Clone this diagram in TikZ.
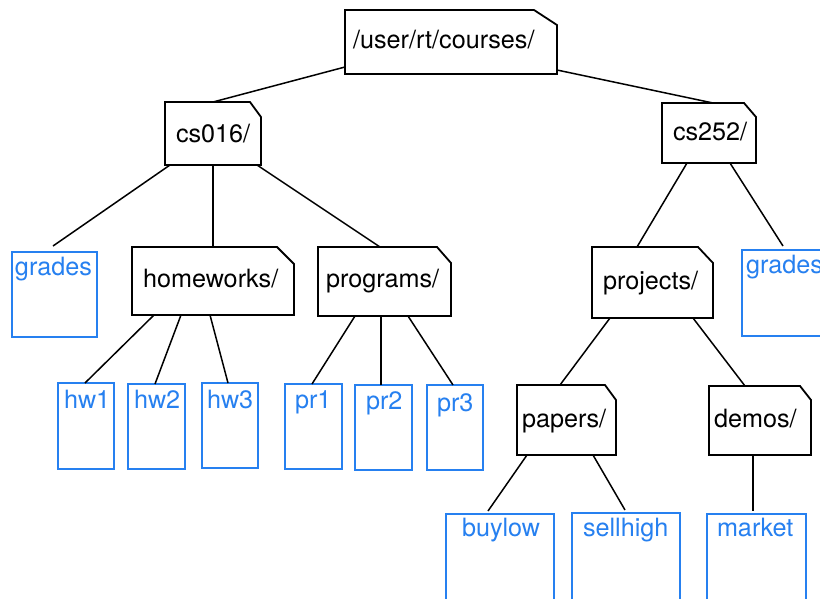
\documentclass[tikz,border=0pt]{standalone}
\usepackage{fontspec}
\setmainfont{TeX Gyre Heros}
\definecolor{fileblue}{RGB}{38,128,240}
\tikzset{
  boxnode/.style={rectangle,inner sep=0pt,outer sep=0pt},
  folderline/.style={draw=black,line width=1.8pt,line join=miter},
  filebox/.style={boxnode,draw=fileblue,line width=1.8pt},
  conn/.style={draw=black,line width=1.5pt},
  lbl/.style={inner sep=0pt,outer sep=0pt,font=\fontsize{25.2}{30}\selectfont},
  flbl/.style={lbl,text=fileblue},
}
% name, left, top, right, bottom, chamfer dx, chamfer dy
\newcommand\folderat[7]{%
  \node[boxnode,minimum width={(#4-#2)*1pt},minimum height={(#5-#3)*1pt}] (#1) at ({(#2+#4)/2},{(#3+#5)/2}) {};
  \draw[folderline] (#1.north west) -- ([xshift=-#6pt]#1.north east) -- ([yshift=-#7pt]#1.north east) -- (#1.south east) -- (#1.south west) -- cycle;
}
\newcommand\fileat[5]{%
  \node[filebox,minimum width={(#4-#2)*1pt},minimum height={(#5-#3)*1pt}] (#1) at ({(#2+#4)/2},{(#3+#5)/2}) {};
}
\begin{document}
\begin{tikzpicture}[x=1pt,y=-1pt]
\useasboundingbox (0,0) rectangle (820,598);
\clip (0,0) rectangle (820,598);
\fill[white] (0,0) rectangle (820,598);

% folders
\folderat{root}{345}{10}{557}{74}{23}{15}
\folderat{cs016}{165}{102}{261}{165}{11}{15}
\folderat{hw}{132}{247}{294}{315}{17}{17}
\folderat{prog}{318}{247}{451}{316}{14}{16}
\folderat{cs252}{662}{103}{756}{163}{12}{14}
\folderat{proj}{592}{247}{713}{318}{15}{16}
\folderat{papers}{517}{385}{616}{455}{11}{15}
\folderat{demos}{709}{386}{811}{455}{11}{14}

\node[lbl,anchor=base west] (root-t) at (353,48) {/user/rt/courses/};
\node[lbl,anchor=base west] (cs016-t) at (176,142) {cs016/};
\node[lbl,anchor=base west] (hw-t) at (143,287) {homeworks/};
\node[lbl,anchor=base west] (prog-t) at (326,287) {programs/};
\node[lbl,anchor=base west] (cs252-t) at (673,140) {cs252/};
\node[lbl,anchor=base west] (proj-t) at (603,289) {projects/};
\node[lbl,anchor=base west] (papers-t) at (522,427) {papers/};
\node[lbl,anchor=base west] (demos-t) at (714,427) {demos/};

% files
\fileat{gradesL}{12}{252}{97}{337}
\fileat{gradesR}{742}{250}{840}{336}
\fileat{hw1}{58}{383}{114}{469}
\fileat{hw2}{128}{384}{185}{469}
\fileat{hw3}{202}{383}{258}{468}
\fileat{pr1}{285}{384}{342}{469}
\fileat{pr2}{355}{385}{412}{470}
\fileat{pr3}{427}{385}{483}{470}
\fileat{buylow}{446}{514}{554}{620}
\fileat{sellhigh}{572}{513}{680}{620}
\fileat{market}{707}{514}{806}{620}

\node[flbl,anchor=base west] (gradesL-t) at (15,275) {grades};
\node[flbl,anchor=base west] (gradesR-t) at (746,273) {grades};
\node[flbl,anchor=base west] (hw1-t) at (64,408) {hw1};
\node[flbl,anchor=base west] (hw2-t) at (134,408) {hw2};
\node[flbl,anchor=base west] (hw3-t) at (207,408) {hw3};
\node[flbl,anchor=base west] (pr1-t) at (295,408) {pr1};
\node[flbl,anchor=base west] (pr2-t) at (366,409) {pr2};
\node[flbl,anchor=base west] (pr3-t) at (437,411) {pr3};
\node[flbl,anchor=base west] (buylow-t) at (462,536) {buylow};
\node[flbl,anchor=base west] (sellhigh-t) at (583,536) {sellhigh};
\node[flbl,anchor=base west] (market-t) at (717,536) {market};

% connectors
\draw[conn] ([yshift=7pt]root.south west) -- ([xshift=48pt]cs016.north west);
\draw[conn] ([yshift=4pt]root.south east) -- ([xshift=51pt]cs252.north west);

\draw[conn] ([xshift=5pt]cs016.south west) -- ([xshift=41pt,yshift=6pt]gradesL.north west);
\draw[conn] ([xshift=48pt]cs016.south west) -- ([xshift=81pt]hw.north west);
\draw[conn] ([xshift=-4pt]cs016.south east) -- ([xshift=62pt]prog.north west);

\draw[conn] ([xshift=22pt]hw.south west) -- ([xshift=27pt]hw1.north west);
\draw[conn] ([xshift=49pt]hw.south west) -- ([xshift=27pt]hw2.north west);
\draw[conn] ([xshift=78pt]hw.south west) -- ([xshift=26pt]hw3.north west);

\draw[conn] ([xshift=37pt]prog.south west) -- ([xshift=27pt]pr1.north west);
\draw[conn] ([xshift=63pt]prog.south west) -- ([xshift=26pt]pr2.north west);
\draw[conn] ([xshift=90pt]prog.south west) -- ([xshift=26pt]pr3.north west);

\draw[conn] ([xshift=25pt]cs252.south west) -- ([xshift=45pt]proj.north west);
\draw[conn] ([xshift=68pt]cs252.south west) -- ([xshift=41pt,yshift=4pt]gradesR.north west);

\draw[conn] ([xshift=18pt]proj.south west) -- ([xshift=43pt]papers.north west);
\draw[conn] ([xshift=101pt]proj.south west) -- ([xshift=36pt]demos.north west);

\draw[conn] ([xshift=10pt]papers.south west) -- ([xshift=42pt,yshift=3pt]buylow.north west);
\draw[conn] ([xshift=76pt]papers.south west) -- ([xshift=53pt,yshift=3pt]sellhigh.north west);
\draw[conn] ([xshift=44pt]demos.south west) -- ([xshift=46pt,yshift=3pt]market.north west);
\end{tikzpicture}
\end{document}
